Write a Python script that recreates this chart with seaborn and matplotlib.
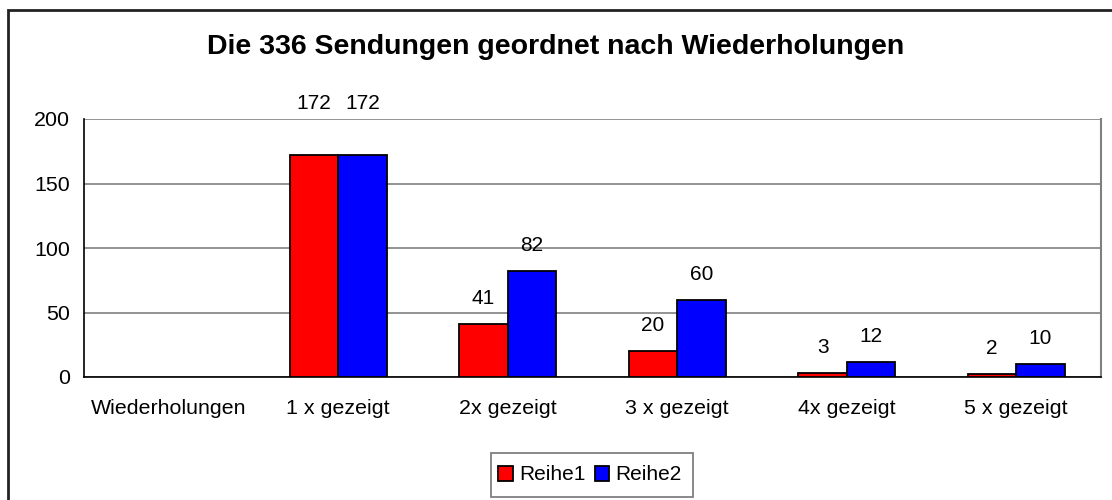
import matplotlib
matplotlib.use("Agg")
import matplotlib.pyplot as plt
import seaborn as sns
import pandas as pd
from matplotlib.patches import Rectangle, Patch

categories = ["Wiederholungen", "1 x gezeigt", "2x gezeigt", "3 x gezeigt", "4x gezeigt", "5 x gezeigt"]
shown = ["1 x gezeigt", "2x gezeigt", "3 x gezeigt", "4x gezeigt", "5 x gezeigt"]
reihe1 = [172, 41, 20, 3, 2]
reihe2 = [172, 82, 60, 12, 10]
series = ["Reihe1", "Reihe2"]
colors = ["#FF0000", "#0000FF"]
yticks = [0, 50, 100, 150, 200]

df = pd.DataFrame({
    "cat": shown * 2,
    "val": reihe1 + reihe2,
    "reihe": ["Reihe1"] * len(shown) + ["Reihe2"] * len(shown),
})

sns.set_style("white")
plt.rcParams["font.family"] = ["Liberation Sans", "DejaVu Sans"]
plt.rcParams["text.color"] = "black"
plt.rcParams["xtick.color"] = "black"
plt.rcParams["ytick.color"] = "black"

fig = plt.figure(figsize=(11.12, 5), dpi=100)
ax = fig.add_axes([84 / 1112, 123 / 500, (1101 - 84) / 1112, (377 - 119) / 500])

sns.barplot(data=df, x="cat", y="val", hue="reihe", order=categories,
            hue_order=series, palette=colors, width=0.57, saturation=1,
            edgecolor="black", linewidth=1.3, legend=False, ax=ax, zorder=3)

# value labels
for cont in ax.containers:
    for bar in cont:
        h = bar.get_height()
        extra = 19 if h > 150 else 0
        ax.annotate(f"{h:.0f}", (bar.get_x() + bar.get_width() / 2, h),
                    xytext=(0, 11.5 + extra), textcoords="offset points",
                    ha="center", va="bottom", fontsize=15)

ax.set_xlim(-0.5, len(categories) - 0.5)
ax.set_ylim(0, 200)
ax.set_yticks(yticks)
ax.yaxis.grid(True, color="#808080", linewidth=1.2, zorder=0)
ax.set_axisbelow(True)
ax.set_xlabel("")
ax.set_ylabel("")

ax.set_xticks(range(len(categories)))
ax.set_xticklabels(categories, fontsize=15.4)
ax.set_xticks([i + 0.5 for i in range(-1, len(categories))], minor=True)
ax.tick_params(axis="x", which="major", length=0, pad=16)
ax.tick_params(axis="x", which="minor", length=6, width=1, color="black", direction="out")
ax.tick_params(axis="y", length=6, width=1, color="black", direction="out", labelsize=15.4, pad=4)

for s in ["left", "bottom"]:
    ax.spines[s].set_color("black")
    ax.spines[s].set_linewidth(1.2)
ax.spines["right"].set_color("#808080")
ax.spines["right"].set_linewidth(1.5)
ax.spines["top"].set_visible(False)

fig.text(0.5, 1 - 47 / 500, "Die 336 Sendungen geordnet nach Wiederholungen",
         ha="center", va="center", fontsize=20.5, fontweight="bold")

# legend without frame, Excel-style box drawn separately
handles = [Patch(facecolor=c, edgecolor="black", linewidth=1.3) for c in colors]
fig.legend(handles, series, loc="center", bbox_to_anchor=(590 / 1112, 1 - 475 / 500),
           ncol=2, fontsize=15, frameon=False,
           handlelength=0.7, handleheight=0.7, handletextpad=0.3,
           columnspacing=0.45, borderpad=0.3)
fig.patches.append(Rectangle((491 / 1112, 1 - 497 / 500), 202 / 1112, 44 / 500,
                             transform=fig.transFigure, fill=False,
                             edgecolor="#808080", linewidth=1.3))

fig.patches.append(Rectangle((8 / 1112, -0.1), 1.2, 1.1 - 10 / 500,
                             transform=fig.transFigure, fill=False,
                             edgecolor="#222222", linewidth=2))

fig.savefig("out.png", dpi=100)
